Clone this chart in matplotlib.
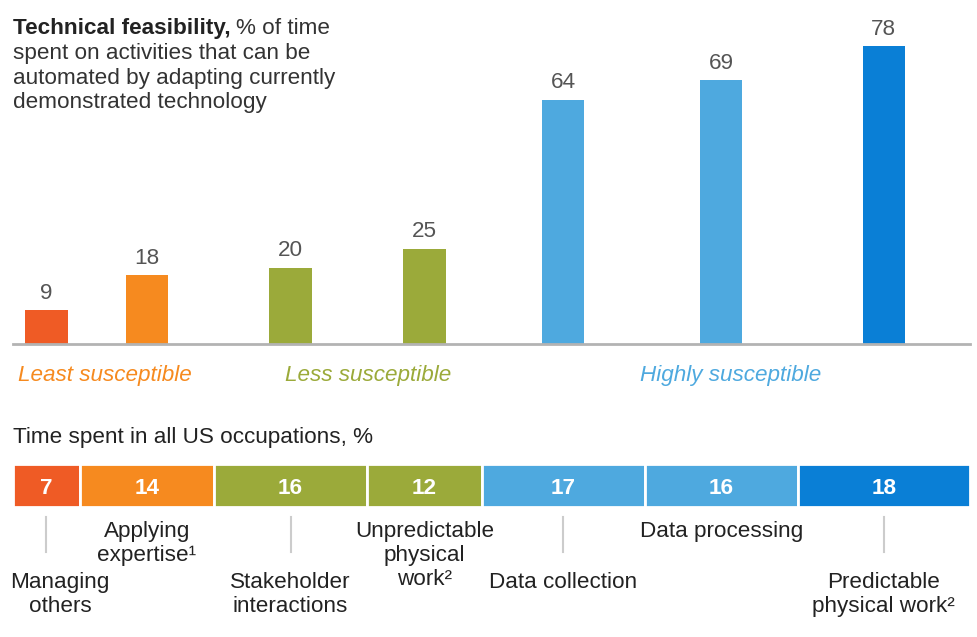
import matplotlib.pyplot as plt
from matplotlib.transforms import blended_transform_factory

plt.rcParams['font.family'] = ['Liberation Sans', 'DejaVu Sans']

W, H = 978, 637

# data
label_lines = [['Managing', 'others'],
               ['Applying', 'expertise¹'],
               ['Stakeholder', 'interactions'],
               ['Unpredictable', 'physical', 'work²'],
               ['Data collection'],
               ['Data processing'],
               ['Predictable', 'physical work²']]
feasibility = [9, 18, 20, 25, 64, 69, 78]
time_share = [7, 14, 16, 12, 17, 16, 18]
groups = ['Least susceptible', 'Less susceptible', 'Highly susceptible']

bar_colors = ['#EF5B25', '#F68A1F', '#9BAA3A', '#9BAA3A', '#4EA9DF', '#4EA9DF', '#0A7FD6']
group_colors = ['#F68A1F', '#9BAA3A', '#4EA9DF']
FS = 16.2


def fx(px):
    return px / W


def fy(py):
    return 1 - py / H


starts = []
acc = 0
for s in time_share:
    starts.append(acc)
    acc += s
centers = [st + s / 2 for st, s in zip(starts, time_share)]

fig = plt.figure(figsize=(W / 100, H / 100), dpi=100)

# --- top: technical feasibility bars ---
ax = fig.add_axes([fx(13), fy(344), fx(970) - fx(13), (344 - 14) / H])
ax.set_xlim(0, 100)
ax.set_ylim(0, 86.4)
ax.bar(centers, feasibility, width=4.4, color=bar_colors)
ax.axhline(0, color='#b3b3b3', lw=2, clip_on=False)
for c, v in zip(centers, feasibility):
    ax.annotate(str(v), (c, v), xytext=(0, 8), textcoords='offset points',
                ha='center', va='baseline', fontsize=FS, color='#555555')
ax.axis('off')

# group labels
for g, col, px in zip(groups, group_colors, [105, 368, 731]):
    fig.text(fx(px), fy(381), g, ha='center', va='baseline', fontsize=FS,
             style='italic', color=col)

# title, bold lead then regular
t = fig.text(fx(13), fy(34), 'Technical feasibility,', fontsize=FS,
             fontweight='bold', color='#222222', va='baseline')
renderer = fig.canvas.get_renderer()
bb = t.get_window_extent(renderer)
fig.text(bb.x1 / W + fx(5), fy(34), '% of time', fontsize=FS, color='#333333', va='baseline')
for txt, b in zip(['spent on activities that can be',
                   'automated by adapting currently',
                   'demonstrated technology'], [59, 84, 108]):
    fig.text(fx(13), fy(b), txt, fontsize=FS, color='#333333', va='baseline')

# --- bottom: time spent stacked bar ---
fig.text(fx(13), fy(443), 'Time spent in all US occupations, %', fontsize=FS,
         color='#222222', va='baseline')

ax2 = fig.add_axes([fx(13), fy(507), fx(970) - fx(13), 43 / H])
ax2.set_xlim(0, 100)
ax2.set_ylim(0, 1)
ax2.barh(0.5, time_share, left=starts, height=1, color=bar_colors,
         edgecolor='white', linewidth=2)
for c, s in zip(centers, time_share):
    ax2.text(c, 0.31, str(s), ha='center', va='baseline', fontsize=FS,
             fontweight='bold', color='white')
ax2.axis('off')

tr = blended_transform_factory(ax2.transData, fig.transFigure)
for i, (c, lines) in enumerate(zip(centers, label_lines)):
    if i % 2 == 1:
        base = 537
    else:
        base = 588
        ax2.plot([c, c], [fy(517), fy(552)], transform=tr, color='#cccccc',
                 lw=1.5, clip_on=False)
    x = c
    if i == 0:
        x = (60 - 13) / 9.57
    for k, line in enumerate(lines):
        ax2.text(x, fy(base + k * 24), line, transform=tr, ha='center',
                 va='baseline', fontsize=FS, color='#222222')

fig.savefig('out.png', dpi=100)
